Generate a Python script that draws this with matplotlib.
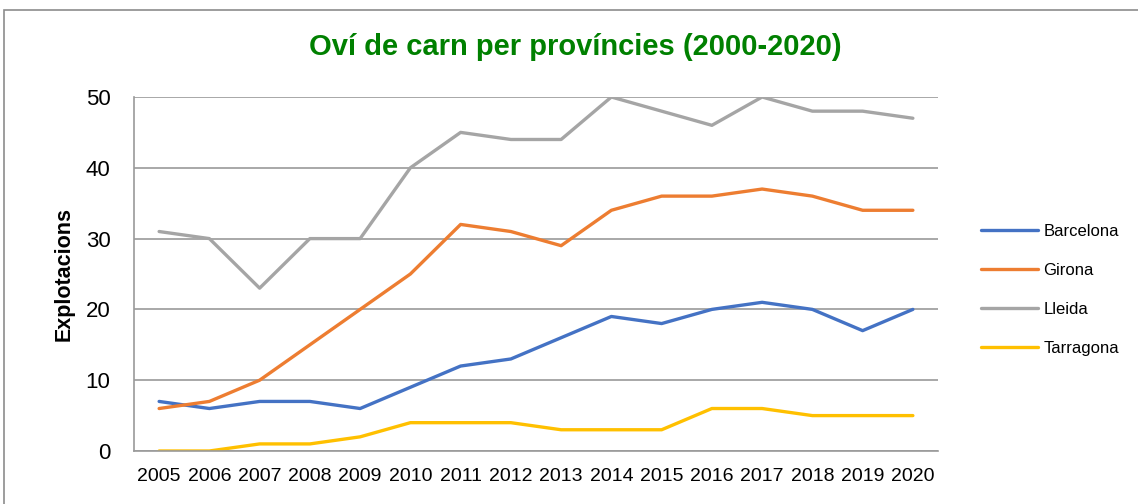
import matplotlib
matplotlib.use("Agg")
import matplotlib.pyplot as plt
from matplotlib.patches import Rectangle

years = [2005, 2006, 2007, 2008, 2009, 2010, 2011, 2012, 2013, 2014, 2015, 2016, 2017, 2018, 2019, 2020]
barcelona = [7, 6, 7, 7, 6, 9, 12, 13, 16, 19, 18, 20, 21, 20, 17, 20]
girona = [6, 7, 10, 15, 20, 25, 32, 31, 29, 34, 36, 36, 37, 36, 34, 34]
lleida = [31, 30, 23, 30, 30, 40, 45, 44, 44, 50, 48, 46, 50, 48, 48, 47]
tarragona = [0, 0, 1, 1, 2, 4, 4, 4, 3, 3, 3, 6, 6, 5, 5, 5]
series_names = ["Barcelona", "Girona", "Lleida", "Tarragona"]
colors = ["#4472C4", "#ED7D31", "#A5A5A5", "#FFC000"]
title = "Oví de carn per províncies (2000-2020)"
ylabel = "Explotacions"
yticks = [0, 10, 20, 30, 40, 50]

plt.rcParams['font.family'] = ['Liberation Sans', 'DejaVu Sans']

fig = plt.figure(figsize=(11.38, 5.04), dpi=100)
W, H = 1138, 504
ax = fig.add_axes([134 / W, 1 - 451 / H, (938 - 134) / W, (451 - 97) / H])

# chart border
fig.patches.append(Rectangle((4 / W, -0.05), 1.1, 1 - 10 / H + 0.05, transform=fig.transFigure,
                             fill=False, edgecolor="#8C8C8C", linewidth=1.2))

xs = list(range(len(years)))
for vals, name, c in zip([barcelona, girona, lleida, tarragona], series_names, colors):
    ax.plot(xs, vals, color=c, linewidth=2.4, label=name, solid_capstyle='round', solid_joinstyle='round')

ax.set_xlim(-0.5, len(years) - 0.5)
ax.set_ylim(0, 50)
ax.set_xticks(xs)
ax.set_xticklabels([str(y) for y in years])
ax.set_yticks(yticks)
ax.tick_params(axis='both', length=0, colors="#000000")
ax.tick_params(axis='y', pad=17, labelsize=16)
ax.tick_params(axis='x', pad=12, labelsize=14)
ax.grid(axis='y', color="#9A9A9A", linewidth=1.2)
ax.set_axisbelow(True)
for s in ['top', 'right']:
    ax.spines[s].set_visible(False)
for s in ['left', 'bottom']:
    ax.spines[s].set_color("#9A9A9A")
    ax.spines[s].set_linewidth(1.2)

ax.set_ylabel(ylabel, fontsize=15.5, fontweight='bold', labelpad=8)
fig.text(575 / W, 1 - 47 / H, title, ha='center', va='center', color="#008000",
         fontsize=21, fontweight='bold')

leg = fig.legend(loc='center left', bbox_to_anchor=(966 / W, 1 - 290 / H), frameon=False,
                 fontsize=12, handlelength=3.4, labelspacing=1.45, handletextpad=0.35)

fig.savefig("out.png", dpi=100)
